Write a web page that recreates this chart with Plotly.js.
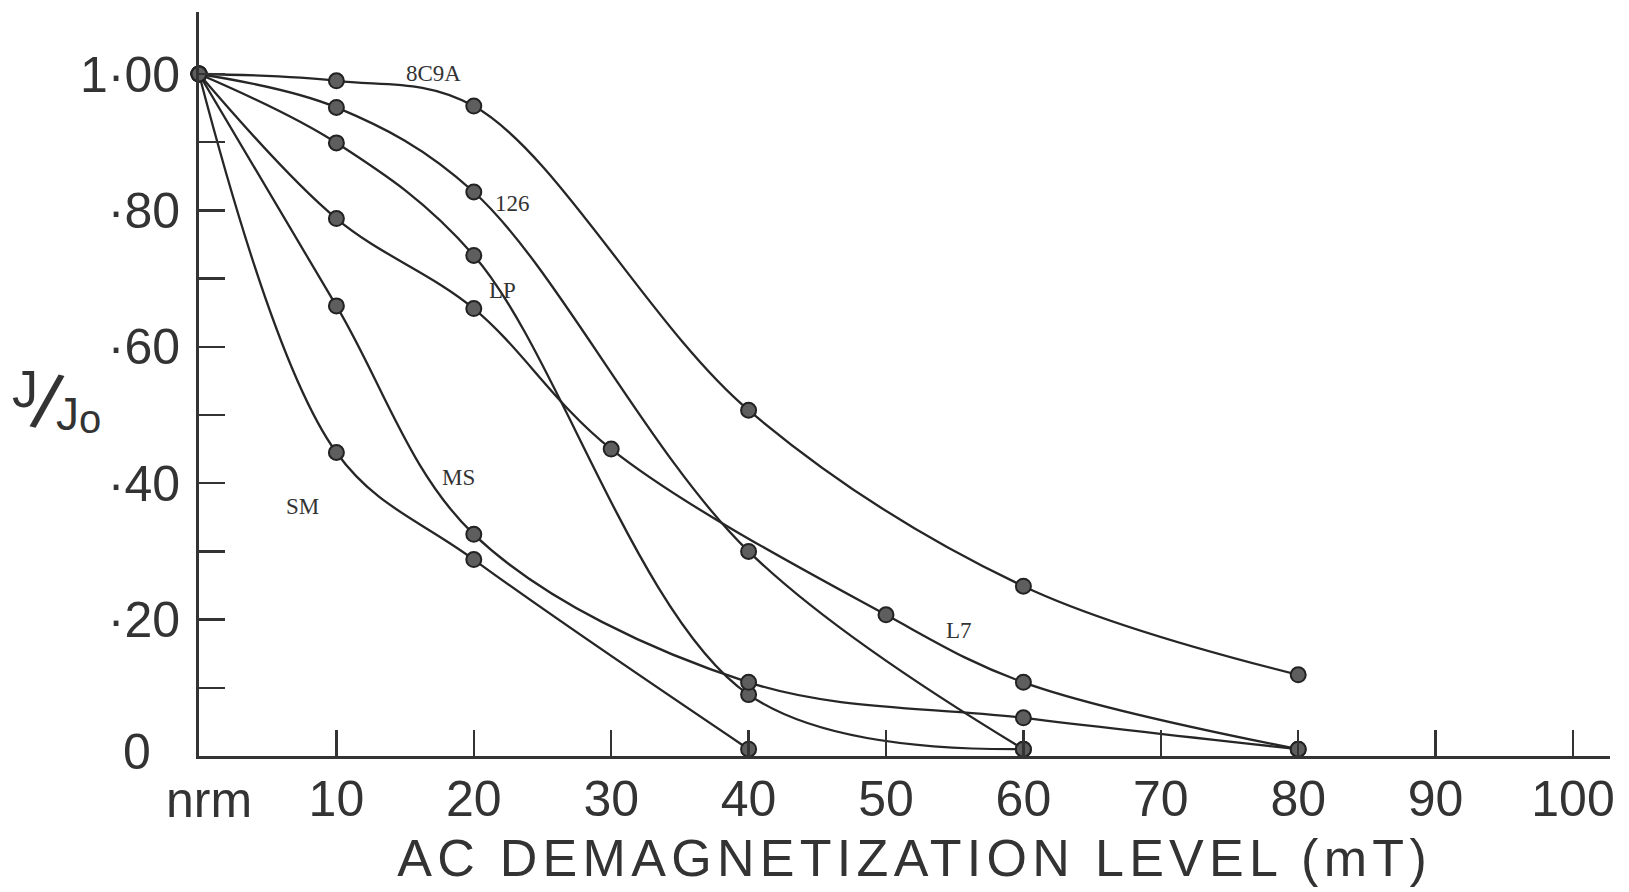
<!DOCTYPE html>
<html>
<head>
<meta charset="utf-8">
<script src="https://cdn.plot.ly/plotly-3.0.1.min.js"></script>
<style>
  html, body { margin: 0; padding: 0; background: #ffffff; }
  #chart { width: 1629px; height: 892px; }
</style>
</head>
<body>
<div id="chart"></div>
<script>
// AC demagnetization level (mT); 0 stands for the natural remanence (nrm)
const x8C9A = [0, 10, 20, 40, 60, 80];
const y8C9A = [1.00, 0.99, 0.953, 0.507, 0.249, 0.119];

const x126 = [0, 10, 20, 40, 60];
const y126 = [1.00, 0.951, 0.827, 0.30, 0.01];

const xLP = [0, 10, 20, 40, 60];
const yLP = [1.00, 0.899, 0.734, 0.09, 0.01];

const xL7 = [0, 10, 20, 30, 50, 60, 80];
const yL7 = [1.00, 0.788, 0.656, 0.45, 0.207, 0.108, 0.01];

const xMS = [0, 10, 20, 40, 60, 80];
const yMS = [1.00, 0.66, 0.325, 0.108, 0.056, 0.01];

const xSM = [0, 10, 20, 40];
const ySM = [1.00, 0.445, 0.288, 0.01];

const sampleNames = ['8C9A', '126', 'LP', 'L7', 'MS', 'SM'];
// where each sample name is written, in axis units
const nameX = [17.1, 22.8, 22.1, 55.3, 18.9, 7.5];
const nameY = [1.001, 0.81, 0.683, 0.184, 0.409, 0.366];

const xTickVals = [0, 10, 20, 30, 40, 50, 60, 70, 80, 90, 100];
const xTickText = ['', '10', '20', '30', '40', '50', '60', '70', '80', '90', '100'];
const nrmLabel = 'nrm';
const yTickVals = [0, 0.1, 0.2, 0.3, 0.4, 0.5, 0.6, 0.7, 0.8, 0.9, 1.0];
const yTickText = ['', '', '\u00B720', '', '\u00B740', '', '\u00B760', '', '\u00B780', '', '1\u00B700'];
const yZeroLabel = '0';

const seriesX = [x8C9A, x126, xLP, xL7, xMS, xSM];
const seriesY = [y8C9A, y126, yLP, yL7, yMS, ySM];

// plot box in page pixels
const L = 199, R = 19, T = 12, B = 136;
const W = 1629 - L - R, H = 892 - T - B;
const pX = p => (p - L) / W;
const pY = p => 1 - (p - T) / H;

const ink = '#262626';
const letterFont = 'Liberation Sans, Arial, sans-serif';
const letterInk = '#333333';

const traces = seriesX.map((xs, i) => ({
  type: 'scatter',
  mode: 'lines+markers',
  name: sampleNames[i],
  x: xs,
  y: seriesY[i],
  cliponaxis: false,
  line: { color: ink, width: 2.3, shape: 'spline', smoothing: 1.0 },
  marker: { size: 15, color: '#5e5e5e', line: { color: '#222222', width: 2 } },
  hoverinfo: 'x+y+name'
}));

const annotations = sampleNames.map((n, i) => ({
  x: nameX[i], y: nameY[i], xref: 'x', yref: 'y',
  text: n, showarrow: false,
  xanchor: 'center', yanchor: 'middle',
  font: { family: 'Liberation Serif, Times New Roman, serif', size: 23, color: '#333333' }
}));

// label under the origin, and the zero of the ordinate set a little to the left
annotations.push({
  x: pX(209), y: pY(800), xref: 'paper', yref: 'paper',
  text: nrmLabel, showarrow: false, xanchor: 'center', yanchor: 'middle',
  font: { family: letterFont, size: 50, color: letterInk }
}, {
  x: pX(137), y: pY(752), xref: 'paper', yref: 'paper',
  text: yZeroLabel, showarrow: false, xanchor: 'center', yanchor: 'middle',
  font: { family: letterFont, size: 50, color: letterInk }
});

// axis title
annotations.push({
  x: pX(914), y: pY(858), xref: 'paper', yref: 'paper',
  text: 'AC DEMAGNETIZATION LEVEL (mT)', showarrow: false,
  xanchor: 'center', yanchor: 'middle',
  font: { family: letterFont, size: 52, color: letterInk }
});

// J/Jo label, lettered as a fraction
annotations.push(
  { x: pX(25), y: pY(389), xref: 'paper', yref: 'paper', text: 'J', showarrow: false,
    xanchor: 'center', yanchor: 'middle', font: { family: letterFont, size: 52, color: letterInk } },
  { x: pX(47), y: pY(402), xref: 'paper', yref: 'paper', text: '/', showarrow: false, textangle: 14,
    xanchor: 'center', yanchor: 'middle', font: { family: letterFont, size: 78, color: letterInk } },
  { x: pX(67), y: pY(414), xref: 'paper', yref: 'paper', text: 'J', showarrow: false,
    xanchor: 'center', yanchor: 'middle', font: { family: letterFont, size: 46, color: letterInk } },
  { x: pX(90), y: pY(419), xref: 'paper', yref: 'paper', text: 'o', showarrow: false,
    xanchor: 'center', yanchor: 'middle', font: { family: letterFont, size: 40, color: letterInk } }
);

const axisCommon = {
  showgrid: false, zeroline: false,
  showline: true, linecolor: '#333333', linewidth: 3,
  ticks: 'inside', ticklen: 26, tickwidth: 2.5, tickcolor: '#333333',
  tickfont: { family: letterFont, size: 50, color: letterInk },
  tickmode: 'array', fixedrange: true
};

const layout = {
  width: 1629, height: 892,
  margin: { l: L, r: R, t: T, b: B },
  paper_bgcolor: '#ffffff', plot_bgcolor: '#ffffff',
  showlegend: false,
  xaxis: Object.assign({}, axisCommon, {
    range: [0, W / 13.74],
    tickvals: xTickVals, ticktext: xTickText,
    ticklabelstandoff: -3
  }),
  yaxis: Object.assign({}, axisCommon, {
    range: [0, H / 682],
    tickvals: yTickVals, ticktext: yTickText,
    ticklabelstandoff: 6
  }),
  annotations: annotations
};

Plotly.newPlot('chart', traces, layout, { displayModeBar: false, staticPlot: true }).then(() => {
  document.querySelectorAll('.annotation-text').forEach(t => {
    if (t.textContent.indexOf('DEMAGNETIZATION') >= 0) t.style.letterSpacing = '5.3px';
  });
});
</script>
</body>
</html>
